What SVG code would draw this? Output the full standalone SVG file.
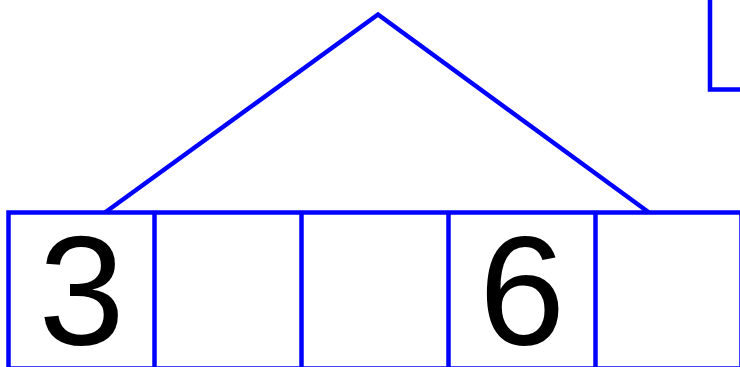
<svg xmlns="http://www.w3.org/2000/svg" width="740" height="367" viewBox="0 0 740 367">
<style>
.ln{fill:none;stroke:#0000ff;stroke-width:4.5}
.num{font-family:"Liberation Sans",Arial,sans-serif;font-size:155px;fill:#000;text-anchor:middle}
</style>
<rect width="740" height="367" fill="#fff"/>
<g id="connectors">
<polyline class="ln" points="105,212.5 378,14.5 649,212.5"/>
</g>
<g id="corner">
<polyline class="ln" points="710,0 710,89.5 745,89.5"/>
</g>
<g id="array">
<rect class="ln" x="8.5" y="212.5" width="733" height="156"/>
<line class="ln" x1="154.5" y1="212.5" x2="154.5" y2="370"/>
<line class="ln" x1="301.5" y1="212.5" x2="301.5" y2="370"/>
<line class="ln" x1="448.5" y1="212.5" x2="448.5" y2="370"/>
<line class="ln" x1="595.5" y1="212.5" x2="595.5" y2="370"/>
</g>
<g id="cell0"><text class="num" x="81.5" y="344">3</text></g>
<g id="cell3"><text class="num" x="522" y="344">6</text></g>
</svg>
